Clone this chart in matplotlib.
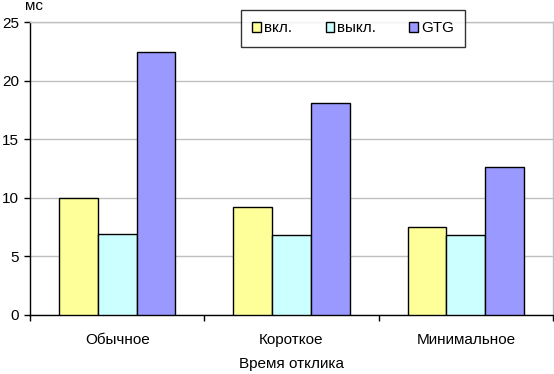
import matplotlib.pyplot as plt
import numpy as np

plt.rcParams['font.family'] = ['Liberation Sans', 'DejaVu Sans']

categories = ['Обычное', 'Короткое', 'Минимальное']
series_names = ['вкл.', 'выкл.', 'GTG']
vkl = [10.0, 9.2, 7.5]
vykl = [6.9, 6.8, 6.8]
gtg = [22.4, 18.1, 12.6]
colors = ['#FFFF99', '#CCFFFF', '#9999FF']

fig = plt.figure(figsize=(5.54, 3.74), dpi=100)
ax = fig.add_axes([30 / 554, 59 / 374, 523 / 554, 293 / 374])

# excel style: gap width 150% -> bar = 1/4.5 of category
bar_w = 1 / 4.5
x = np.arange(len(categories))
for i, (vals, name) in enumerate(zip([vkl, vykl, gtg], series_names)):
    ax.bar(x + (i - 1) * bar_w, vals, width=bar_w, color=colors[i],
           edgecolor='black', linewidth=1.0, label=name, zorder=3)

ax.set_xlim(-0.5, len(categories) - 0.5)
ax.set_ylim(0, 25)
ax.set_yticks(range(0, 26, 5))
ax.yaxis.grid(True, color='#C0C0C0', linewidth=1.0, zorder=0)

ax.set_xticks(np.arange(len(categories) + 1) - 0.5)
ax.set_xticklabels([])
ax.set_xticks(x, minor=True)
ax.set_xticklabels(categories, minor=True, fontsize=11)
ax.tick_params(axis='x', which='minor', length=0, pad=13)
ax.tick_params(axis='x', which='major', length=4, direction='out', width=1)
ax.tick_params(axis='y', length=4, direction='out', width=1, labelsize=11, pad=4)

for s in ['left', 'bottom']:
    ax.spines[s].set_color('black')
    ax.spines[s].set_linewidth(1.0)
for s in ['right', 'top']:
    ax.spines[s].set_color('#C0C0C0')
    ax.spines[s].set_linewidth(1.0)

ax.set_xlabel('Время отклика', fontsize=11, labelpad=7)
fig.text(25 / 554, 1 - 9.5 / 374, 'мс', fontsize=11, ha='left', va='baseline')

leg = ax.legend(ncol=3, loc='upper left', bbox_to_anchor=(211 / 523, 1.041),
                fontsize=11, frameon=True, fancybox=False, edgecolor='black',
                handlelength=0.55, handleheight=0.55, handletextpad=0.2,
                columnspacing=2.2, borderpad=0.75, borderaxespad=0)
leg.get_frame().set_linewidth(1.0)

fig.savefig('out.png', dpi=100)
